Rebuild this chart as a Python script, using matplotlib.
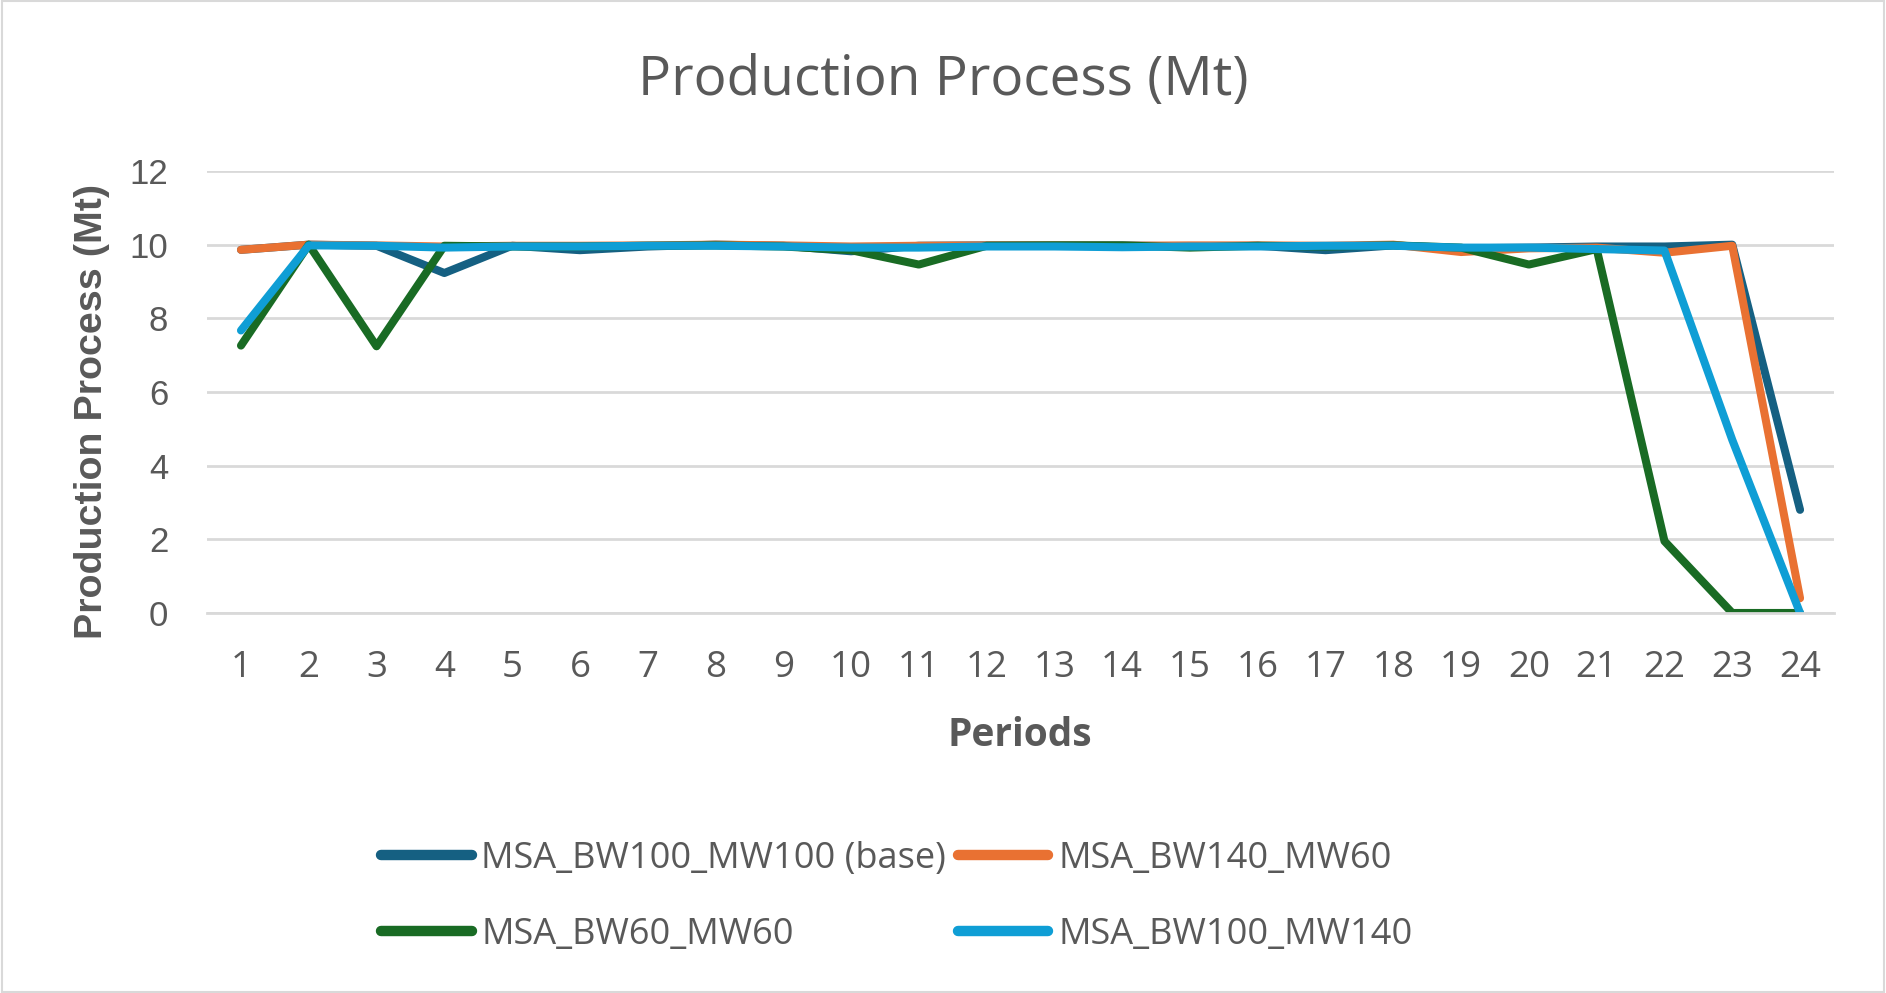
import matplotlib
matplotlib.use('Agg')
import matplotlib.pyplot as plt
import matplotlib.patches as patches

periods = list(range(1, 25))

# Production per period (Mt)
base_bw100_mw100 = [9.86, 10.0, 9.97, 9.23, 9.97, 9.85, 9.95, 10.0, 9.97, 9.82,
                    9.97, 9.98, 9.98, 9.98, 9.95, 9.97, 9.85, 9.98, 9.9, 9.92,
                    9.95, 9.95, 10.0, 2.8]
bw140_mw60 = [9.86, 10.0, 9.98, 9.95, 9.97, 9.97, 9.98, 10.0, 9.98, 9.95,
              9.97, 9.98, 9.98, 9.97, 9.98, 9.98, 9.97, 10.0, 9.8, 9.9,
              9.92, 9.78, 9.97, 0.4]
bw60_mw60 = [7.26, 10.0, 7.24, 9.97, 9.95, 9.95, 9.97, 9.98, 9.95, 9.85,
             9.46, 9.97, 9.98, 9.98, 9.92, 9.97, 9.95, 9.98, 9.92, 9.46,
             9.88, 1.95, 0.0, 0.0]
bw100_mw140 = [7.67, 9.98, 9.97, 9.92, 9.95, 9.95, 9.97, 9.97, 9.95, 9.92,
               9.92, 9.95, 9.95, 9.93, 9.95, 9.95, 9.97, 9.97, 9.92, 9.92,
               9.88, 9.84, 4.7, 0.0]

series_names = ['MSA_BW100_MW100 (base)', 'MSA_BW140_MW60',
                'MSA_BW60_MW60', 'MSA_BW100_MW140']
series_data = [base_bw100_mw100, bw140_mw60, bw60_mw60, bw100_mw140]
colors = ['#156082', '#E97132', '#196B24', '#0F9ED5']

y_ticks = [0, 2, 4, 6, 8, 10, 12]

text_color = '#595959'
font_main = ['Open Sans', 'DejaVu Sans']
font_arial = ['Liberation Sans', 'DejaVu Sans']

fig = plt.figure(figsize=(18.86, 9.93), dpi=100)
ax = fig.add_axes([0.1098, 0.3827, 0.8626, 0.4451])

lines = []
for name, vals, c in zip(series_names, series_data, colors):
    ln, = ax.plot(periods, vals, color=c, linewidth=5.8, label=name,
                  solid_joinstyle='round', solid_capstyle='round')
    lines.append(ln)

ax.set_xlim(0.5, 24.5)
ax.set_ylim(0, 12)
ax.set_yticks(y_ticks)
ax.set_xticks(periods)
ax.set_xticklabels([str(p) for p in periods], fontsize=26.5, color=text_color,
                   family=font_main)
ax.set_yticklabels([str(v) for v in y_ticks], fontsize=25, color=text_color,
                   family=font_arial)
ax.tick_params(axis='both', length=0)
ax.tick_params(axis='y', pad=28)
ax.tick_params(axis='x', pad=27)

ax.grid(axis='y', color='#D9D9D9', linewidth=2)
ax.set_axisbelow(True)
for s in ['top', 'right', 'left']:
    ax.spines[s].set_visible(False)
ax.spines['bottom'].set_color('#D9D9D9')
ax.spines['bottom'].set_linewidth(2)

ax.set_xlabel('Periods', fontsize=28, fontweight='bold', color=text_color,
              family=font_main, va='center')
ax.xaxis.set_label_coords(0.4993, -0.278)
ax.set_ylabel('Production Process (Mt)', fontsize=28.4, fontweight='bold',
              color=text_color, family=font_arial, ha='center', va='center')
ax.yaxis.set_label_coords(-0.0707, 0.455)

fig.text(0.5, 1 - 81 / 993, 'Production Process (Mt)', fontsize=39.5,
         color=text_color, family=font_main, ha='center', va='center')

# matplotlib fills legend columns first, so reorder to match row order
order = [0, 2, 1, 3]
leg = fig.legend([lines[i] for i in order], [series_names[i] for i in order],
                 loc='center', bbox_to_anchor=(0.4755, 0.0968), ncol=2,
                 frameon=False, handlelength=2.5, handletextpad=0.27,
                 columnspacing=0.33, labelspacing=1.1,
                 prop={'family': font_main, 'size': 26})
for t in leg.get_texts():
    t.set_color(text_color)
for h in leg.legend_handles:
    h.set_linewidth(7.5)

fig.patches.append(patches.Rectangle((0.001, 0.001), 0.998, 0.998,
                                     transform=fig.transFigure, fill=False,
                                     edgecolor='#D9D9D9', linewidth=1.5))

plt.savefig('out.png', dpi=100)
